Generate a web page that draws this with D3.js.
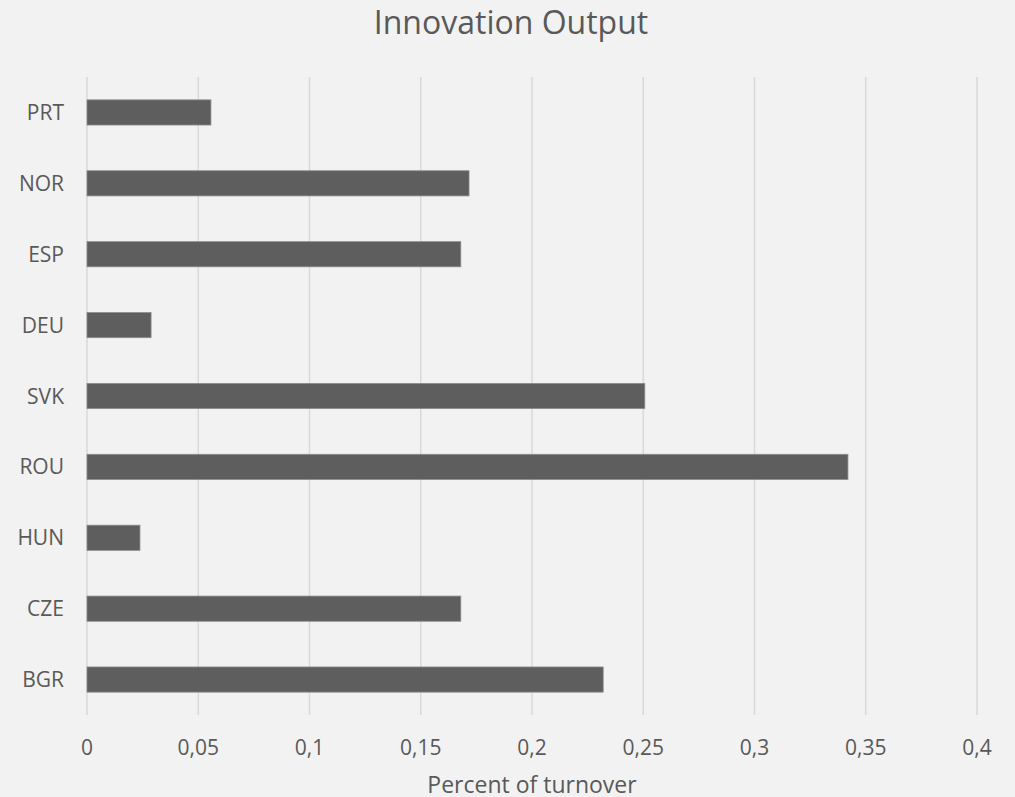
<html>
<head>
<script src="https://d3js.org/d3.v7.min.js"></script>
<style>
body { margin: 0; background: #f2f2f2; }
svg { display: block; font-family: 'Open Sans', 'Noto Sans', sans-serif; }
</style>
</head>
<body>
<div id="chart"></div>
<script>

var width = 1015;
var height = 797;

// data, top to bottom
var countries = ["PRT", "NOR", "ESP", "DEU", "SVK", "ROU", "HUN", "CZE", "BGR"];
var values = [0.0557, 0.1717, 0.168, 0.0288, 0.2507, 0.342, 0.0238, 0.168, 0.232];
var ticks = [0, 0.05, 0.1, 0.15, 0.2, 0.25, 0.3, 0.35, 0.4];

var title = "Innovation Output";
var xTitle = "Percent of turnover";

var plotLeft = 87, plotRight = 977, plotTop = 77, plotBottom = 715;

var svg = d3.select("#chart").append("svg")
	.attr("width", width).attr("height", height);

svg.append("rect").attr("width", width).attr("height", height).style("fill", "#f2f2f2");

var xScale = d3.scaleLinear().domain([0, 0.4]).range([plotLeft, plotRight]);
var yScale = d3.scaleBand().domain(countries).range([plotTop, plotBottom]).paddingInner(0.645).paddingOuter(0.3225);

// gridlines
svg.selectAll(".grid").data(ticks)
	.enter().append("line")
	.attr("class", "grid")
	.attr("x1", function(d) { return xScale(d); })
	.attr("x2", function(d) { return xScale(d); })
	.attr("y1", plotTop)
	.attr("y2", plotBottom)
	.style("stroke", "#d9d9d9")
	.style("stroke-width", 1.5);

// tick labels with comma decimals
svg.selectAll(".tick").data(ticks)
	.enter().append("text")
	.attr("class", "tick")
	.attr("x", function(d) { return xScale(d); })
	.attr("y", 755)
	.attr("text-anchor", "middle")
	.style("font-size", "21px")
	.style("fill", "#595959")
	.text(function(d) { return String(d).replace(".", ","); });

var data = countries.map(function(c, i) { return { name: c, value: values[i] }; });

svg.selectAll(".bar").data(data)
	.enter().append("rect")
	.attr("class", "bar")
	.attr("x", xScale(0))
	.attr("y", function(d) { return yScale(d.name); })
	.attr("width", function(d) { return xScale(d.value) - xScale(0); })
	.attr("height", yScale.bandwidth())
	.style("fill", "#5e5e5e")
	.style("stroke", "#8c8c8c")
	.style("stroke-width", 0.8);

svg.selectAll(".cat").data(countries)
	.enter().append("text")
	.attr("class", "cat")
	.attr("x", 64)
	.attr("y", function(d) { return yScale(d) + yScale.bandwidth() / 2; })
	.attr("dy", "0.36em")
	.attr("text-anchor", "end")
	.style("font-size", "21px")
	.style("fill", "#595959")
	.text(function(d) { return d; });

svg.append("text")
	.attr("x", (plotLeft + plotRight) / 2 - 21)
	.attr("y", 34)
	.attr("text-anchor", "middle")
	.style("font-size", "32px")
	.style("fill", "#595959")
	.text(title);

svg.append("text")
	.attr("x", (plotLeft + plotRight) / 2)
	.attr("y", 793)
	.attr("text-anchor", "middle")
	.style("font-size", "23px")
	.style("fill", "#595959")
	.text(xTitle);

</script>
</body>
</html>
